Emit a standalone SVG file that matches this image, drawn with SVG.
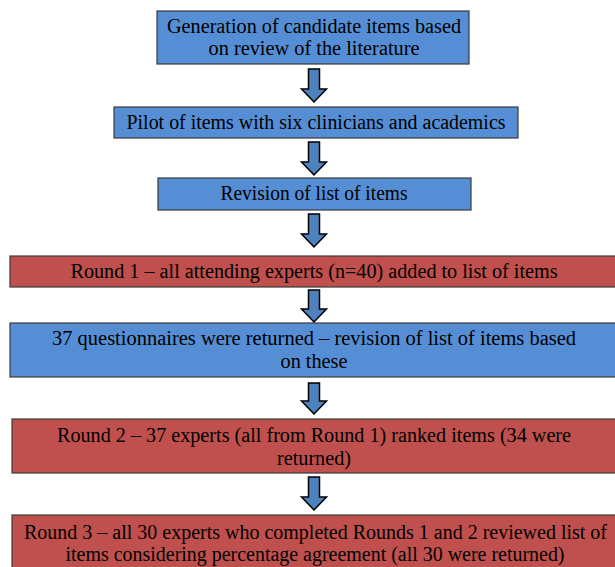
<svg xmlns="http://www.w3.org/2000/svg" width="615" height="567" viewBox="0 0 615 567">
<style>
.blue{fill:#558ED5;stroke:#3a3a3a;stroke-width:1.2}
.red{fill:#C0504D;stroke:#3a3a3a;stroke-width:1.2}
.arr{fill:#4F81BD;stroke:#000;stroke-width:1.5;stroke-linejoin:miter}
text{font-family:"Liberation Serif","DejaVu Serif",serif;font-size:20px;fill:#000;text-anchor:middle}
</style>
<rect width="615" height="567" fill="#fff"/>
<g id="n1"><rect class="blue" x="157" y="11" width="312" height="53"/><text x="314" y="33" textLength="294" lengthAdjust="spacingAndGlyphs">Generation of candidate items based</text><text x="314" y="55" textLength="211" lengthAdjust="spacingAndGlyphs">on review of the literature</text></g>
<g id="n2"><rect class="blue" x="114" y="107" width="404" height="31"/><text x="316" y="129" textLength="379" lengthAdjust="spacingAndGlyphs">Pilot of items with six clinicians and academics</text></g>
<g id="n3"><rect class="blue" x="158" y="178" width="313" height="32"/><text x="314" y="200" textLength="187" lengthAdjust="spacingAndGlyphs">Revision of list of items</text></g>
<g id="n4"><rect class="red" x="10" y="256" width="608" height="31"/><text x="314" y="278" textLength="487" lengthAdjust="spacingAndGlyphs">Round 1 – all attending experts (n=40) added to list of items</text></g>
<g id="n5"><rect class="blue" x="10" y="323" width="608" height="54"/><text x="314" y="345" textLength="524" lengthAdjust="spacingAndGlyphs">37 questionnaires were returned – revision of list of items based</text><text x="314" y="368" textLength="67" lengthAdjust="spacingAndGlyphs">on these</text></g>
<g id="n6"><rect class="red" x="12" y="419" width="606" height="54"/><text x="314" y="442" textLength="514" lengthAdjust="spacingAndGlyphs">Round 2 – 37 experts (all from Round 1) ranked items (34 were</text><text x="314" y="465" textLength="74" lengthAdjust="spacingAndGlyphs">returned)</text></g>
<g id="n7"><rect class="red" x="12" y="515" width="606" height="60"/><text x="315.5" y="539" textLength="583" lengthAdjust="spacingAndGlyphs">Round 3 – all 30 experts who completed Rounds 1 and 2 reviewed list of</text><text x="315" y="561" textLength="499" lengthAdjust="spacingAndGlyphs">items considering percentage agreement (all 30 were returned)</text></g>
<g id="connectors">
<path class="arr" d="M308.5,69 h11 v20 h7 l-12.5,13 l-12.5,-13 h7 z"/>
<path class="arr" d="M308.5,142 h11 v20 h7 l-12.5,13 l-12.5,-13 h7 z"/>
<path class="arr" d="M308.5,214 h11 v20 h7 l-12.5,13 l-12.5,-13 h7 z"/>
<path class="arr" d="M308.5,290 h11 v19 h7 l-12.5,13 l-12.5,-13 h7 z"/>
<path class="arr" d="M308.5,383 h11 v18 h7 l-12.5,13 l-12.5,-13 h7 z"/>
<path class="arr" d="M308.5,477 h11 v20 h7 l-12.5,13 l-12.5,-13 h7 z"/>
</g>
</svg>
